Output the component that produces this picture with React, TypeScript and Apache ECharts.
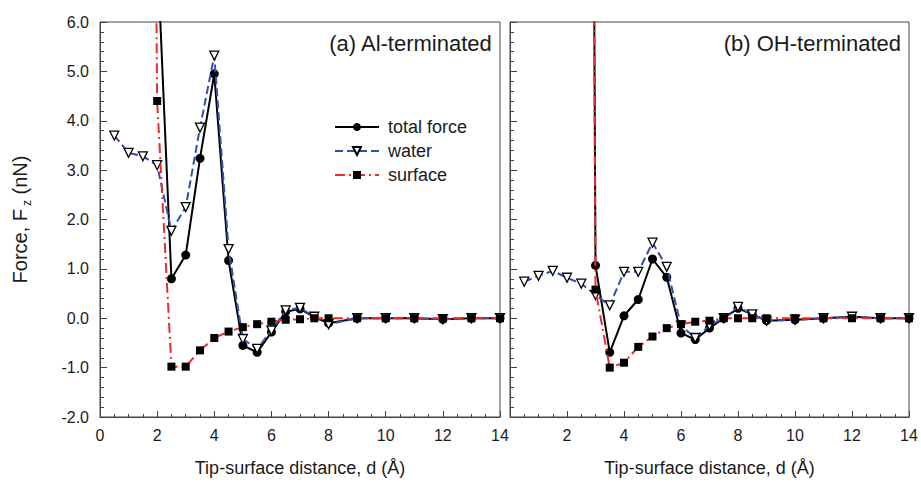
import React, { useEffect, useRef } from "react";
import * as echarts from "echarts";

// Panel (a) Al-terminated
const distA = [0.5, 1, 1.5, 2, 2.5, 3, 3.5, 4, 4.5, 5, 5.5, 6, 6.5, 7, 7.5, 8, 9, 10, 11, 12, 13, 14];
const totalA = [null, null, 43, 7.5, 0.8, 1.28, 3.24, 4.95, 1.17, -0.55, -0.69, -0.28, 0.13, 0.19, 0.02, -0.1, 0, 0, 0, -0.02, 0, 0];
const waterA = [3.7, 3.35, 3.28, 3.1, 1.77, 2.25, 3.86, 5.32, 1.4, -0.42, -0.62, -0.25, 0.16, 0.21, 0.03, -0.12, 0, 0, 0, -0.02, 0, 0];
const surfaceA = [null, null, 40, 4.4, -0.98, -0.98, -0.65, -0.4, -0.27, -0.18, -0.12, -0.07, -0.03, -0.02, 0, 0, 0, 0, 0, 0, 0, 0];

// Panel (b) OH-terminated
const distB = [0.5, 1, 1.5, 2, 2.5, 3, 3.5, 4, 4.5, 5, 5.5, 6, 6.5, 7, 7.5, 8, 8.5, 9, 10, 11, 12, 13, 14];
const totalB = [null, null, null, null, 61, 1.07, -0.69, 0.05, 0.38, 1.2, 0.83, -0.3, -0.43, -0.2, 0, 0.2, 0.08, -0.05, -0.03, 0, 0.03, 0, 0];
const waterB = [0.74, 0.86, 0.96, 0.82, 0.7, 0.47, 0.26, 0.94, 0.94, 1.53, 1.04, -0.15, -0.4, -0.15, 0, 0.23, 0.08, -0.05, -0.03, 0, 0.03, 0, 0];
const surfaceB = [null, null, null, null, 60, 0.58, -1.0, -0.9, -0.58, -0.37, -0.2, -0.12, -0.07, -0.05, 0, 0, 0, 0, 0, 0, 0, 0, 0];

const xTicks = [0, 2, 4, 6, 8, 10, 12, 14];
const seriesNames = ["total force", "water", "surface"];
const panelTitles = ["(a) Al-terminated", "(b) OH-terminated"];

const FONT = "'Liberation Sans', Arial, sans-serif";
const AXIS_COLOR = "#444";
const TEXT_COLOR = "#1a1a1a";
const WATER_COLOR = "#2f50ad";
const SURFACE_COLOR = "#ee2a2a";

function pairs(xs: number[], ys: (number | null)[]) {
  const out: number[][] = [];
  xs.forEach((x, i) => {
    const y = ys[i];
    if (y !== null && y !== undefined) out.push([x, y]);
  });
  return out;
}

function makeSeries(idx: number, total: number[][], water: number[][], surface: number[][]) {
  return [
    {
      name: seriesNames[0],
      type: "line",
      xAxisIndex: idx,
      yAxisIndex: idx,
      data: total,
      symbol: "circle",
      symbolSize: 9,
      lineStyle: { color: "#000", width: 2 },
      itemStyle: { color: "#000" },
      z: 3,
    },
    {
      name: seriesNames[1],
      type: "line",
      xAxisIndex: idx,
      yAxisIndex: idx,
      data: water,
      symbol: "triangle",
      symbolRotate: 180,
      symbolSize: 9,
      lineStyle: { color: WATER_COLOR, width: 2, type: [8, 4] },
      itemStyle: { color: "#fff", borderColor: "#000", borderWidth: 1.3 },
      z: 4,
    },
    {
      name: seriesNames[2],
      type: "line",
      xAxisIndex: idx,
      yAxisIndex: idx,
      data: surface,
      symbol: "rect",
      symbolSize: 8,
      lineStyle: { color: SURFACE_COLOR, width: 2, type: [10, 4, 2, 4] },
      itemStyle: { color: "#000" },
      z: 5,
    },
  ];
}

function xAxisFor(idx: number) {
  return {
    type: "value",
    gridIndex: idx,
    min: 0,
    max: 14,
    interval: 2,
    name: "Tip-surface distance, d (Å)",
    nameLocation: "middle",
    nameGap: 42,
    nameTextStyle: { fontSize: 18, color: TEXT_COLOR, fontFamily: FONT },
    axisLine: { show: true, onZero: false, lineStyle: { color: AXIS_COLOR, width: 1 } },
    axisTick: { show: true, inside: true, length: 6, lineStyle: { color: AXIS_COLOR } },
    minorTick: { show: true, splitNumber: 4, length: 3, lineStyle: { color: AXIS_COLOR } },
    splitLine: { show: false },
    axisLabel: {
      fontSize: 16,
      color: TEXT_COLOR,
      fontFamily: FONT,
      margin: 10,
      formatter: (v: number) => (idx === 1 && v === 0 ? "" : String(v)),
    },
    data: xTicks,
  };
}

function yAxisFor(idx: number) {
  return {
    type: "value",
    gridIndex: idx,
    min: -2,
    max: 6,
    interval: 1,
    name: idx === 0 ? "Force, F{sub|z} (nN)" : "",
    nameLocation: "middle",
    nameGap: 67,
    nameTextStyle: {
      fontSize: 20,
      color: TEXT_COLOR,
      fontFamily: FONT,
      rich: { sub: { fontSize: 12, verticalAlign: "bottom", color: TEXT_COLOR, fontFamily: FONT, padding: [14, 0, 0, 3] } },
    },
    axisLine: { show: true, onZero: false, lineStyle: { color: AXIS_COLOR, width: 1 } },
    axisTick: { show: true, inside: true, length: 7, lineStyle: { color: AXIS_COLOR } },
    minorTick: { show: true, splitNumber: 5, length: 4, lineStyle: { color: AXIS_COLOR } },
    splitLine: { show: false },
    axisLabel: {
      show: idx === 0,
      fontSize: 16,
      color: TEXT_COLOR,
      fontFamily: FONT,
      margin: 11,
      formatter: (v: number) => v.toFixed(1),
    },
  };
}

export default function App() {
  const ref = useRef<HTMLDivElement>(null);
  useEffect(() => {
    if (!ref.current) return;
    const chart = echarts.init(ref.current, null, { renderer: "svg" });
    const option = {
      animation: false,
      backgroundColor: "#fff",
      textStyle: { fontFamily: FONT },
      grid: [
        { left: 100, top: 22, width: 400, height: 395, show: true, borderColor: AXIS_COLOR, borderWidth: 1, backgroundColor: "transparent" },
        { left: 510, top: 22, width: 399, height: 395, show: true, borderColor: AXIS_COLOR, borderWidth: 1, backgroundColor: "transparent" },
      ],
      xAxis: [xAxisFor(0), xAxisFor(1)],
      yAxis: [yAxisFor(0), yAxisFor(1)],
      legend: {
        data: seriesNames,
        orient: "vertical",
        left: 334,
        top: 118,
        padding: 0,
        itemWidth: 44,
        itemHeight: 10,
        itemGap: 6,
        textStyle: { fontSize: 18, color: TEXT_COLOR, fontFamily: FONT, padding: [0, 0, 0, 4] },
      },
      graphic: [
        {
          type: "text",
          right: 921 - 493,
          top: 32,
          style: { text: panelTitles[0], fontSize: 22, fill: TEXT_COLOR, fontFamily: FONT },
        },
        {
          type: "text",
          right: 921 - 901,
          top: 32,
          style: { text: panelTitles[1], fontSize: 22, fill: TEXT_COLOR, fontFamily: FONT },
        },
      ],
      series: [
        ...makeSeries(0, pairs(distA, totalA), pairs(distA, waterA), pairs(distA, surfaceA)),
        ...makeSeries(1, pairs(distB, totalB), pairs(distB, waterB), pairs(distB, surfaceB)),
      ],
    };
    chart.setOption(option as any);
    return () => chart.dispose();
  }, []);
  return <div ref={ref} style={{ position: "fixed", left: 0, top: 0, width: 921, height: 486 }} />;
}
